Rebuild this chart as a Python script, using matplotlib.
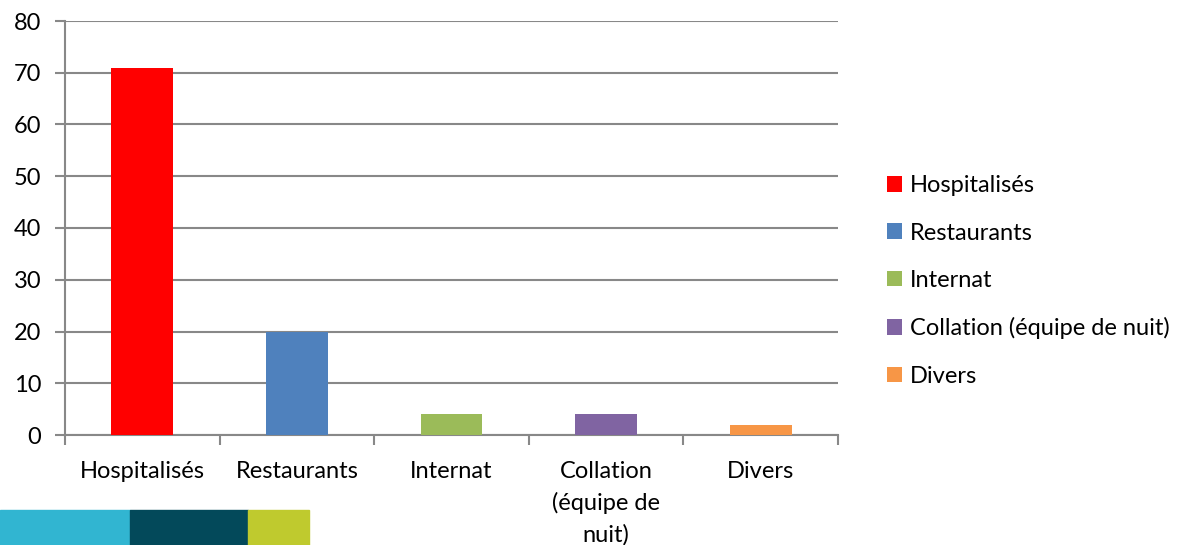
import matplotlib.pyplot as plt
from matplotlib.patches import Rectangle

categories = ["Hospitalisés", "Restaurants", "Internat", "Collation (équipe de nuit)", "Divers"]
tick_labels = ["Hospitalisés", "Restaurants", "Internat", "Collation\n(équipe de\nnuit)", "Divers"]
values = [71, 20, 4, 4, 2]
colors = ["#ff0000", "#4f81bd", "#9bbb59", "#8064a2", "#f79646"]

plt.rcParams["font.family"] = ["Lato", "DejaVu Sans"]
plt.rcParams["font.size"] = 17

fig = plt.figure(figsize=(11.85, 5.45), dpi=100)
ax = fig.add_axes([65 / 1185, 110 / 545, 773 / 1185, 414 / 545])

x = list(range(len(values)))
bars = ax.bar(x, values, width=0.4, color=colors, zorder=3)

ax.set_xlim(-0.5, len(values) - 0.5)
ax.set_ylim(0, 80)
ax.set_yticks(range(0, 81, 10))
ax.set_xticks([i - 0.5 for i in range(len(values) + 1)], minor=False)
ax.set_xticklabels([])
ax.set_xticks(x, minor=True)
ax.set_xticklabels(tick_labels, minor=True, linespacing=1.55)
ax.tick_params(axis="x", which="minor", length=0, pad=19)
ax.tick_params(axis="x", which="major", length=7, color="#888888", width=1.5)
ax.tick_params(axis="y", length=7, color="#888888", width=1.5, pad=10)

ax.grid(axis="y", color="#888888", linewidth=1.5, zorder=0)
for s in ["top", "right"]:
    ax.spines[s].set_visible(False)
for s in ["left", "bottom"]:
    ax.spines[s].set_color("#888888")
    ax.spines[s].set_linewidth(1.5)

ax.legend(bars, categories, loc="center left", bbox_to_anchor=(875 / 1185, 264 / 545),
          bbox_transform=fig.transFigure, frameon=False, borderpad=0, handlelength=0.64,
          handleheight=0.64, handletextpad=0.34, labelspacing=1.12, fontsize=17)

# bandeau décoratif en bas à gauche
for x0, w, c in [(0, 130, "#31b5d1"), (130, 118, "#03495a"), (248, 61, "#bfca2e")]:
    fig.patches.append(Rectangle((x0 / 1185, 0), w / 1185, 35 / 545, color=c,
                                 transform=fig.transFigure, figure=fig))

fig.savefig("out.png", dpi=100)
